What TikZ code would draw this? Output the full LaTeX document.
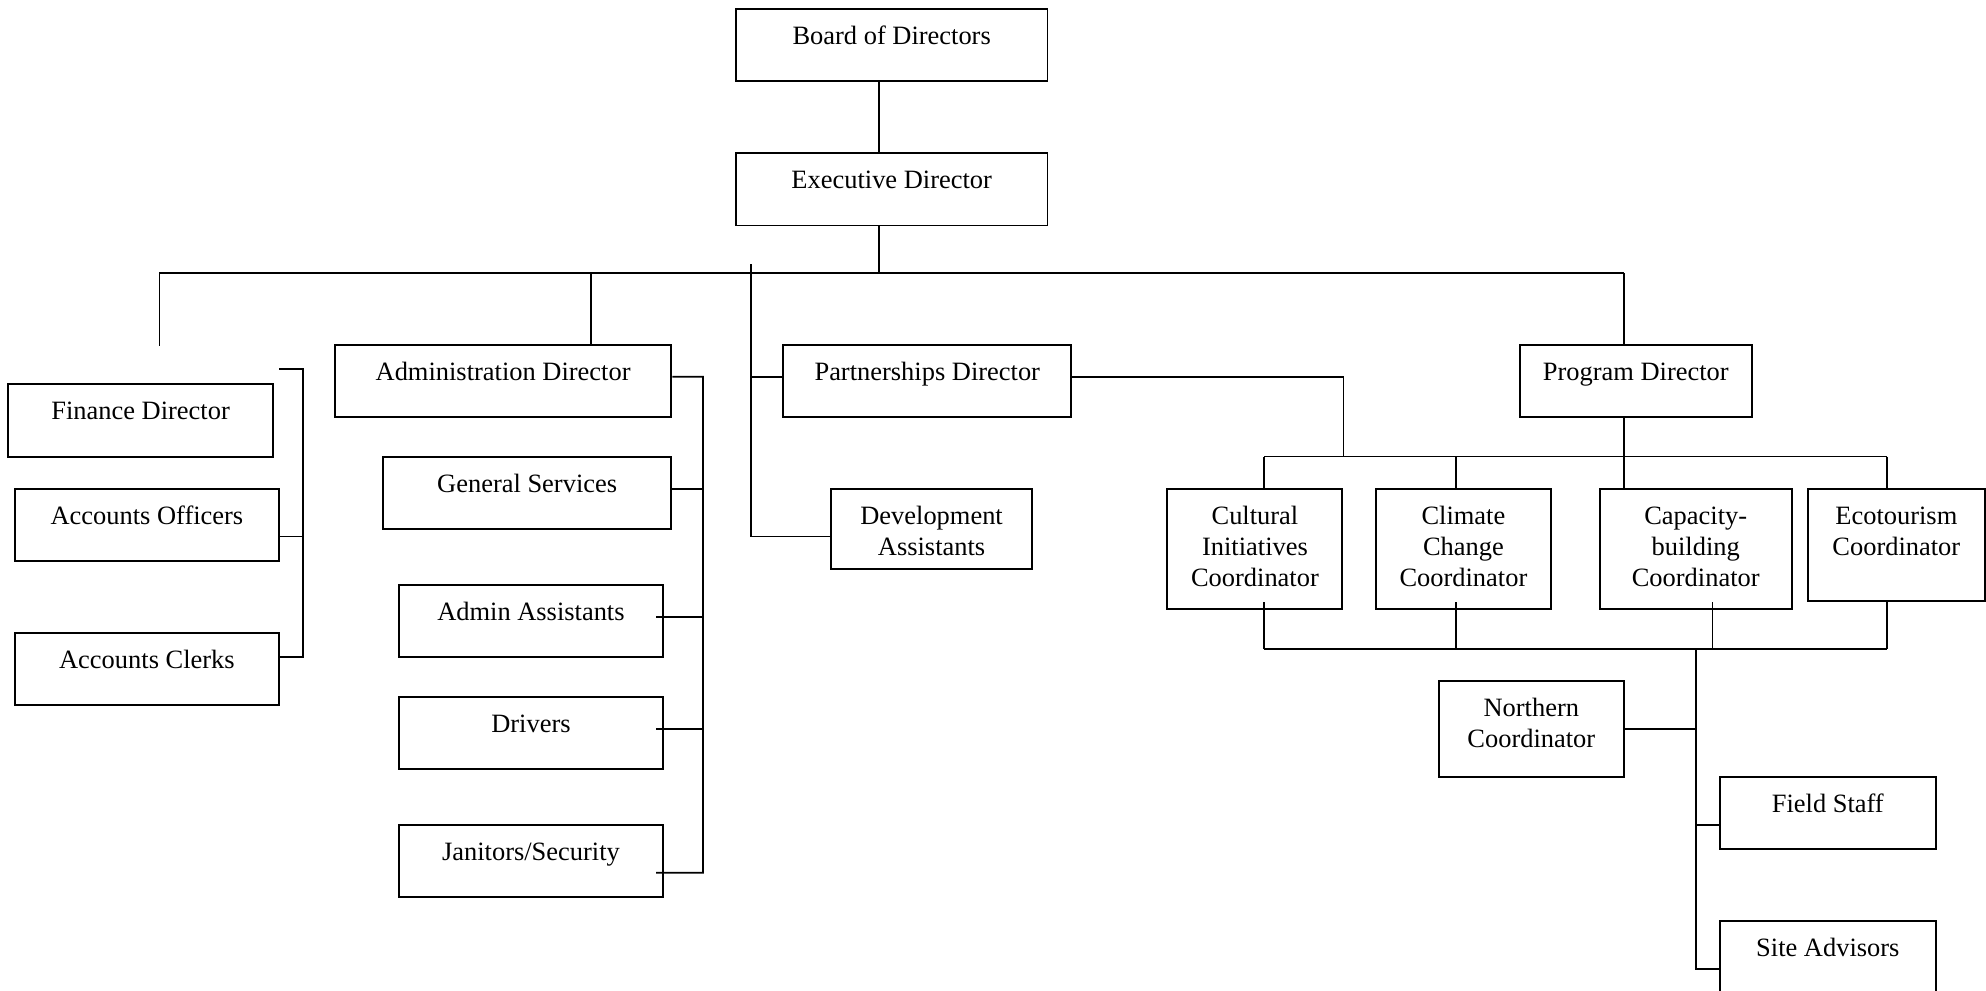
\documentclass[tikz,border=0pt]{standalone}
\usepackage{fontspec}
\setmainfont{Liberation Serif}
\usepackage{tikz}
\usetikzlibrary{positioning,calc}

\tikzset{
  box/.style={draw, line width=0.9pt, inner xsep=0pt, inner ysep=0pt, align=center,
    text height=16.1pt, text depth=16.7pt, font=\fontsize{12}{14.1}\selectfont},
  link/.style={line width=0.8pt},
}

\begin{document}
\begin{tikzpicture}[x=0.5747pt, y=-0.5747pt]
\useasboundingbox (0,0) rectangle (1568,782);
\clip (0,0) rectangle (1568,782);

% Top of the chart
\node[box, minimum width=141.4pt] (board) at (704,35.5) {Board of Directors};
\node[box, minimum width=141.4pt] (exec) at (704,149.5) {Executive Director};

% Finance
\node[box, minimum width=120.1pt] (finance) at (111,332.1) {Finance Director};
\node[box, minimum width=120pt] (accoff) at (116,414.4) {Accounts Officers};
\node[box, minimum width=120pt] (accclk) at (116,528) {Accounts Clerks};

% Administration
\node[box, minimum width=152.7pt, text depth=16.4pt] (admin) at (397.2,300.7) {Administration Director};
\node[box, minimum width=130.8pt] (gensvc) at (416.2,389) {General Services};
\node[box, minimum width=119.8pt] (adminasst) at (419.2,490.2) {Admin Assistants};
\node[box, minimum width=119.8pt] (drivers) at (419.2,578.6) {Drivers};
\node[box, minimum width=119.8pt] (janitors) at (419.2,679.8) {Janitors/Security};

% Partnerships
\node[box, minimum width=130.8pt, text depth=16.4pt] (partner) at (732.1,300.7) {Partnerships Director};
\node[box, minimum width=91.1pt, text height=30.2pt, text depth=6.1pt] (devasst) at (735.5,417.4) {Development\\Assistants};

% Programs
\node[box, minimum width=105.2pt] (program) at (1291.5,300.7) {Program Director};
\node[box, minimum width=79.4pt, text height=44.3pt, text depth=10.2pt] (cultural) at (990.8,433.2) {Cultural\\Initiatives\\Coordinator};
\node[box, minimum width=79.6pt, text height=44.3pt, text depth=10.2pt] (climate) at (1155.4,433.2) {Climate\\Change\\Coordinator};
\node[box, minimum width=87pt, text height=44.3pt, text depth=10.2pt] (capacity) at (1338.8,433.2) {Capacity-\\building\\Coordinator};
\node[box, minimum width=80.1pt, text height=30.2pt, text depth=20.6pt] (ecotour) at (1497.2,430) {Ecotourism\\Coordinator};
\node[box, minimum width=83.9pt, text height=30.2pt, text depth=13.4pt] (northern) at (1209,575.6) {Northern\\Coordinator};
\node[box, minimum width=98.3pt] (field) at (1443.1,641.9) {Field Staff};
\node[box, minimum width=98.3pt] (site) at (1443.1,755.7) {Site Advisors};

% Junction points
\coordinate (jn) at (694,215.3);
\coordinate (busL) at (126,215.3);
\coordinate (busA) at (466.6,215.3);
\coordinate (busR) at (1282.2,215.3);
\coordinate (finTop) at (126,272.9);
\coordinate (pTop) at (593,208.4);
\coordinate (fTop) at (220.3,291.3);
\coordinate (fx) at (239.3,291.3);
\coordinate (ax) at (555,297.4);
\coordinate (pJoin) at (1060.7,360.5);
\coordinate (c1) at (998,360.5);
\coordinate (c2) at (1149.3,360.5);
\coordinate (c3) at (1282.2,360.5);
\coordinate (c4) at (1490.1,360.5);
\coordinate (b1) at (998,512.4);
\coordinate (b2) at (1149.3,512.4);
\coordinate (b3) at (1352,512.4);
\coordinate (b4) at (1490.1,512.4);
\coordinate (sp) at (1338.8,512.4);

% Main lines
\draw[link] (board.south -| jn) -- (exec.north -| jn);
\draw[link] (exec.south -| jn) -- (jn);
\draw[link] (finTop) -- (busL) -- (busR);
\draw[link] (admin.north -| busA) -- (busA);
\draw[link] (program.north -| busR) -- (busR);

% Finance bracket
\draw[link] (fTop) -- (fx) |- ([yshift=5.5pt]accclk.east);
\draw[link] ([yshift=-5.3pt]accoff.east) -| (fx);

% Administration bracket
\draw[link] ([yshift=1.9pt]admin.east) -- (ax) |- ([xshift=-3.6pt,yshift=-5.3pt]janitors.east);
\draw[link] ([yshift=1.8pt]gensvc.east) -| (ax);
\draw[link] ([xshift=-3.6pt,yshift=1.8pt]adminasst.east) -| (ax);
\draw[link] ([xshift=-3.6pt,yshift=1.7pt]drivers.east) -| (ax);

% Partnerships
\draw[link] ([yshift=1.9pt]partner.west) -| (pTop);
\draw[link] ([yshift=-3.6pt]devasst.west) -| (pTop);
\draw[link] ([yshift=1.9pt]partner.east) -| (pJoin);

% Coordinators
\draw[link] (program.south -| c3) -- (c3);
\draw[link] (c1) -- (c4);
\foreach \n/\c in {cultural/c1, climate/c2, capacity/c3, ecotour/c4}
  \draw[link] (\c) -- (\n.north -| \c);
\draw[link] (b1) -- (b4);
\foreach \n/\b/\s in {cultural/b1/3.7pt, climate/b2/3.7pt, capacity/b3/3.7pt, ecotour/b4/0pt}
  \draw[link] (\b) -- ([yshift=\s]\n.south -| \b);

% Field level
\draw[link] (sp) |- ([yshift=-5.3pt]site.west);
\draw[link] ([yshift=-5.5pt]field.west) -| (sp);
\draw[link] (northern.east) -| (sp);
\end{tikzpicture}
\end{document}
